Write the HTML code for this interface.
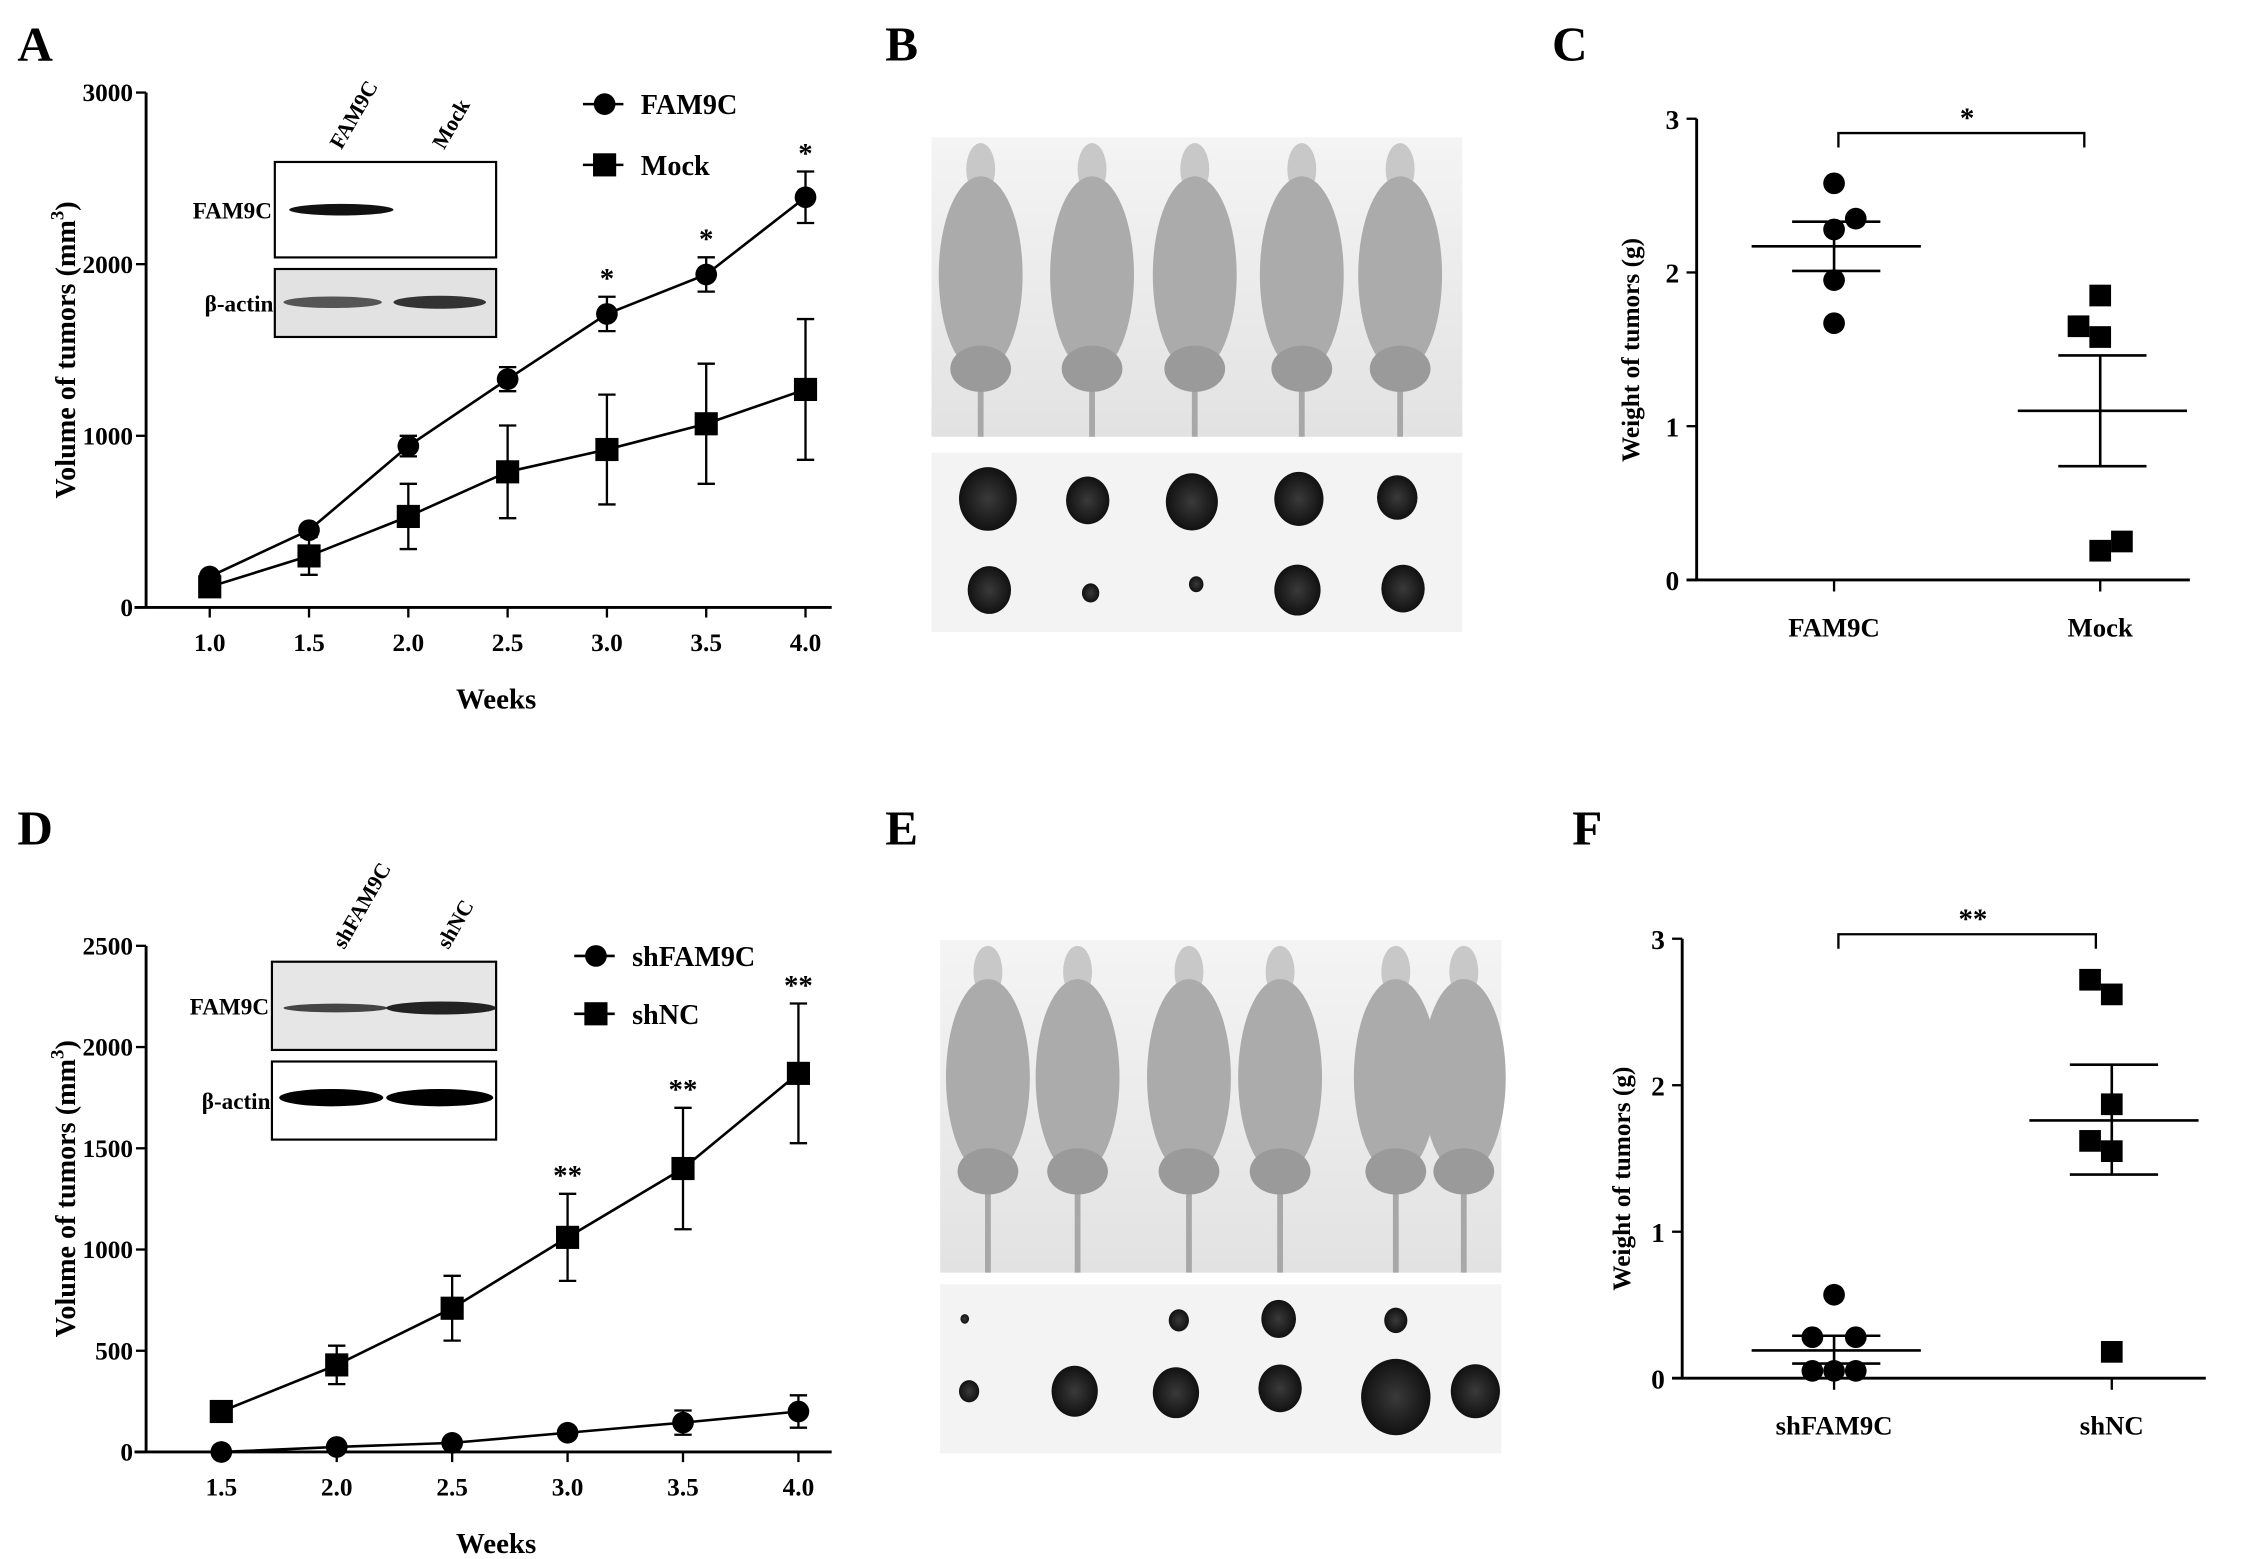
<!DOCTYPE html>
<html><head><meta charset="utf-8">
<style>
html,body{margin:0;padding:0;background:#fff;}
svg{display:block;font-family:"Liberation Serif",serif;font-weight:bold;}
</style></head>
<body>
<svg id="fig" width="2268" height="1559" viewBox="0 0 1568 1078" preserveAspectRatio="none" xmlns="http://www.w3.org/2000/svg">
<defs>
<linearGradient id="bgB" x1="0" y1="0" x2="0" y2="1"><stop offset="0" stop-color="#f4f4f4"/><stop offset="1" stop-color="#e2e2e2"/></linearGradient>
<radialGradient id="tum"><stop offset="0" stop-color="#3a3a3a"/><stop offset="1" stop-color="#111"/></radialGradient>
</defs>
<g id="root"></g>
</svg>
<script>
// ---------- Panel A data ----------
const weeksA = [1.0, 1.5, 2.0, 2.5, 3.0, 3.5, 4.0];
const fam9cVol = [180, 450, 940, 1330, 1710, 1940, 2390];
const fam9cErr = [20, 30, 60, 70, 100, 100, 150];
const mockVol = [120, 300, 530, 790, 920, 1070, 1270];
const mockErr = [30, 110, 190, 270, 320, 350, 410];
const yTicksA = [0, 1000, 2000, 3000];
const xTickLabelsA = ["1.0","1.5","2.0","2.5","3.0","3.5","4.0"];
const starsA = ["", "", "", "", "*", "*", "*"];
// ---------- Panel D data ----------
const weeksD = [1.5, 2.0, 2.5, 3.0, 3.5, 4.0];
const shFamVol = [0, 25, 45, 95, 145, 200];
const shFamErr = [0, 20, 20, 20, 60, 80];
const shNCVol = [200, 430, 710, 1060, 1400, 1870];
const shNCErr = [0, 95, 160, 215, 300, 345];
const yTicksD = [0, 500, 1000, 1500, 2000, 2500];
const xTickLabelsD = ["1.5","2.0","2.5","3.0","3.5","4.0"];
const starsD = ["", "", "", "**", "**", "**"];
// ---------- Panel C data ----------
const groupsC = ["FAM9C", "Mock"];
const fam9cWeights = [2.58, 2.35, 2.28, 1.95, 1.67];
const mockWeights = [1.85, 1.65, 1.58, 0.25, 0.19];
const fam9cJitter = [0, 1, 0, 0, 0];
const mockJitter = [0, -1, 0, 1, 0];
const fam9cStats = [2.17, 2.01, 2.33];
const mockStats = [1.10, 0.74, 1.46];
// ---------- Panel F data ----------
const groupsF = ["shFAM9C", "shNC"];
const shFamWeights = [0.57, 0.28, 0.28, 0.05, 0.05, 0.05];
const shNCWeights = [2.72, 2.62, 1.87, 1.62, 1.55, 0.18];
const shFamJitter = [0, -1, 1, -1, 0, 1];
const shNCJitter = [-1, 0, 0, -1, 0, 0];
const shFamStats = [0.19, 0.10, 0.29];
const shNCStats = [1.76, 1.39, 2.14];
const yTicksW = [0, 1, 2, 3];

const NS = "http://www.w3.org/2000/svg";
const root = document.getElementById("root");
function mk(tag, attrs, parent, text) {
  const e = document.createElementNS(NS, tag);
  for (const k in attrs) e.setAttribute(k, attrs[k]);
  if (text !== undefined) e.textContent = text;
  (parent || root).appendChild(e);
  return e;
}
function line(x1,y1,x2,y2,w,p){return mk("line",{x1,y1,x2,y2,stroke:"#000","stroke-width":w||1.6},p);}

[["A",12,42],["B",612,42],["C",1073,42],["D",12,584],["E",612,584],["F",1087,584]].forEach(function(l){
  const t = mk("text",{x:l[1],y:l[2],"font-size":34},root,l[0]);
  
  
});

function lineChart(cfg) {
  const g = mk("g",{});
  
  
  const xs = v => cfg.x0 + (v - cfg.xMin) * cfg.xk;
  const ys = v => cfg.yZero - v * cfg.yk;
  const ya = line(cfg.ax, ys(cfg.yTicks[cfg.yTicks.length-1]), cfg.ax, cfg.yZero, 2, g);
  
  
  const xa = line(cfg.ax - 8, cfg.yZero, cfg.axEnd, cfg.yZero, 2, g);
  
  
  cfg.yTicks.forEach(function(v){
    line(cfg.ax - 7, ys(v), cfg.ax, ys(v), 1.6, g);
    const t = mk("text",{x:cfg.ax - 9, y:ys(v)+6, "font-size":17.5, "text-anchor":"end"}, g, String(v));
    
    
  });
  cfg.weeks.forEach(function(w,i){
    line(xs(w), cfg.yZero, xs(w), cfg.yZero + 7, 1.6, g);
    const t = mk("text",{x:xs(w), y:cfg.yZero + 30, "font-size":17.5, "text-anchor":"middle"}, g, cfg.xLabels[i]);
    
    
  });
  const xt = mk("text",{x:cfg.titleX, y:cfg.yZero + 70, "font-size":20, "text-anchor":"middle"}, g, "Weeks");
  
  
  const yt = mk("text",{x:0,y:0,"font-size":19.5,"text-anchor":"middle",transform:"translate("+cfg.ytX+","+cfg.ytY+") rotate(-90)"}, g);
  
  
  mk("tspan",{},yt,"Volume  of tumors (mm");
  mk("tspan",{dy:-8,"font-size":13},yt,"3");
  mk("tspan",{dy:8},yt,")");
  cfg.series.forEach(function(s){
    const sg = mk("g",{}, g);
    
    
    const pts = cfg.weeks.map((w,i)=> xs(w)+","+ys(s.vals[i])).join(" ");
    mk("polyline",{points:pts,fill:"none",stroke:"#000","stroke-width":1.8}, sg);
    cfg.weeks.forEach(function(w,i){
      const x = xs(w), y = ys(s.vals[i]), e = s.errs[i];
      if (e > 0) {
        const eb = mk("g",{}, sg);
        
        
        line(x, ys(s.vals[i]+e), x, ys(s.vals[i]-e), 1.6, eb);
        line(x-6, ys(s.vals[i]+e), x+6, ys(s.vals[i]+e), 1.6, eb);
        line(x-6, ys(s.vals[i]-e), x+6, ys(s.vals[i]-e), 1.6, eb);
      }
      let m;
      if (s.shape === "circle") m = mk("circle",{cx:x,cy:y,r:7.5,fill:"#000"}, sg);
      else m = mk("rect",{x:x-8,y:y-8,width:16,height:16,fill:"#000"}, sg);
      
      
    });
  });
  const top = cfg.series[0].vals.map((v,i)=>Math.max(...cfg.series.map(s=>s.vals[i]+s.errs[i])));
  cfg.weeks.forEach(function(w,i){
    if (!cfg.stars[i]) return;
    const t = mk("text",{x:xs(w), y:ys(top[i]) - 6, "font-size":20, "text-anchor":"middle"}, g, cfg.stars[i]);
    
    
  });
  cfg.series.forEach(function(s,i){
    const ly = cfg.legY + i*cfg.legDy;
    const lg = mk("g",{}, g);
    
    
    line(cfg.legX, ly, cfg.legX + 28, ly, 1.8, lg);
    if (s.shape === "circle") mk("circle",{cx:cfg.legX+15,cy:ly,r:7.5,fill:"#000"}, lg);
    else mk("rect",{x:cfg.legX+7,y:ly-8,width:16,height:16,fill:"#000"}, lg);
    mk("text",{x:cfg.legX+40, y:ly+7, "font-size":19.5}, lg, s.label);
  });
  return g;
}

lineChart({name:"panel-a-growth-chart", weeks:weeksA, xMin:1.0, x0:145, xk:137.3, yZero:420, yk:356/3000,
  ax:101, axEnd:575, yTicks:yTicksA, xLabels:xTickLabelsA, titleX:343, ytX:52, ytY:242, stars:starsA,
  legX:403, legY:72, legDy:42,
  series:[{key:"fam9c",label:"FAM9C",shape:"circle",vals:fam9cVol,errs:fam9cErr},
          {key:"mock",label:"Mock",shape:"square",vals:mockVol,errs:mockErr}]});
lineChart({name:"panel-d-growth-chart", weeks:weeksD, xMin:1.5, x0:153, xk:159.6, yZero:1004, yk:350/2500,
  ax:101, axEnd:575, yTicks:yTicksD, xLabels:xTickLabelsD, titleX:343, ytX:52, ytY:822, stars:starsD,
  legX:397, legY:661, legDy:40,
  series:[{key:"shfam9c",label:"shFAM9C",shape:"circle",vals:shFamVol,errs:shFamErr},
          {key:"shnc",label:"shNC",shape:"square",vals:shNCVol,errs:shNCErr}]});

function blot(name, x, y1, h1, y2, h2, w, bands1, bands2, lane1, lane2, l1x, l2x, bg1, bg2) {
  const g = mk("g",{});
  
  
  mk("rect",{x:x,y:y1,width:w,height:h1,fill:bg1,stroke:"#000","stroke-width":1.5}, g);
  mk("rect",{x:x,y:y2,width:w,height:h2,fill:bg2,stroke:"#000","stroke-width":1.5}, g);
  bands1.forEach(b=>mk("ellipse",{cx:b[0],cy:b[1],rx:b[2],ry:b[3],fill:b[4]},g));
  bands2.forEach(b=>mk("ellipse",{cx:b[0],cy:b[1],rx:b[2],ry:b[3],fill:b[4]},g));
  mk("text",{x:x-2,y:y1+h1/2+6,"font-size":16,"text-anchor":"end"},g,"FAM9C");
  mk("text",{x:x-1,y:y2+h2/2+6,"font-size":16,"text-anchor":"end"},g,"β-actin");
  mk("text",{x:0,y:0,"font-size":15,transform:"translate("+l1x+","+(y1-8)+") rotate(-60)"},g,lane1);
  mk("text",{x:0,y:0,"font-size":15,transform:"translate("+l2x+","+(y1-8)+") rotate(-60)"},g,lane2);
}
blot("panel-a-western-blot",190,112,66,186,47,153,
  [[236,145,36,4,"#111"]],
  [[230,209,34,4,"#555"],[304,209,32,4.5,"#333"]],
  "FAM9C","Mock",236,307,"#fff","#e2e2e2");
blot("panel-d-western-blot",188,665,61,734,54,155,
  [[232,697,36,3,"#444"],[305,697,38,4.5,"#222"]],
  [[229,759,36,6,"#000"],[304,759,37,6,"#000"]],
  "shFAM9C","shNC",238,310,"#e6e6e6","#fff");

function photo(name, x, y, w, h, mice, ty, th, tumors) {
  const g = mk("g",{});
  
  
  mk("rect",{x:x,y:y,width:w,height:h,fill:"url(#bgB)"}, g);
  mice.forEach(function(m){
    const mg = mk("g",{}, g);
    
    
    mk("line",{x1:m,y1:y+150,x2:m,y2:y+h,stroke:"#a8a8a8","stroke-width":4}, mg);
    mk("ellipse",{cx:m,cy:y+22,rx:10,ry:18,fill:"#c8c8c8"}, mg);
    mk("ellipse",{cx:m,cy:y+95,rx:29,ry:68,fill:"#ababab"}, mg);
    mk("ellipse",{cx:m,cy:y+160,rx:21,ry:16,fill:"#9a9a9a"}, mg);
  });
  mk("rect",{x:x,y:ty,width:w,height:th,fill:"#f3f3f3"}, g);
  tumors.forEach(function(t){
    const e = mk("ellipse",{cx:t[0],cy:t[1],rx:t[2],ry:t[2]*1.1,fill:"url(#tum)"}, g);
    
    
  });
}
photo("panel-b-mice-photo",644,95,367,207,[678,755,826,900,968],313,124,
  [[683,345,20],[752,346,15],[824,347,18],[898,345,17],[966,344,14],
   [684,408,15],[754,410,6],[827,404,5],[897,408,16],[970,407,15]]);
photo("panel-e-mice-photo",650,650,388,230,[683,745,822,885,965,1012],888,117,
  [[667,912,3],[815,913,7],[884,912,12],[965,913,8],
   [670,962,7],[743,962,16],[813,963,16],[885,960,15],[965,966,24],[1020,962,17]]);

function scatter(cfg) {
  const g = mk("g",{});
  
  
  const ys = v => cfg.yZero - v * cfg.yk;
  const ya = line(cfg.ax, ys(3), cfg.ax, cfg.yZero, 2, g);
  
  
  const xa = line(cfg.ax - 7, cfg.yZero, cfg.axEnd, cfg.yZero, 2, g);
  
  
  yTicksW.forEach(function(v){
    line(cfg.ax - 7, ys(v), cfg.ax, ys(v), 1.6, g);
    const t = mk("text",{x:cfg.ax - 12, y:ys(v)+7, "font-size":19, "text-anchor":"end"}, g, String(v));
    
    
  });
  const yt = mk("text",{x:0,y:0,"font-size":17.5,"text-anchor":"middle",transform:"translate("+cfg.ytX+","+cfg.ytY+") rotate(-90)"}, g, "Weight of tumors  (g)");
  
  
  cfg.groups.forEach(function(grp,gi){
    const cx = cfg.cx[gi];
    line(cx, cfg.yZero, cx, cfg.yZero + 8, 1.6, g);
    const t = mk("text",{x:cx, y:cfg.yZero + 39, "font-size":18.5, "text-anchor":"middle"}, g, grp);
    
    
    const st = cfg.stats[gi];
    line(cx - 57, ys(st[0]), cx + 60, ys(st[0]), 1.8, g);
    line(cx - 29, ys(st[1]), cx + 32, ys(st[1]), 1.8, g);
    line(cx - 29, ys(st[2]), cx + 32, ys(st[2]), 1.8, g);
    line(cx, ys(st[1]), cx, ys(st[2]), 1.8, g);
    cfg.vals[gi].forEach(function(v,i){
      const x = cx + cfg.jit[gi][i] * 15, y = ys(v);
      let m;
      if (gi === 0) m = mk("circle",{cx:x,cy:y,r:7.5,fill:"#000"}, g);
      else m = mk("rect",{x:x-7.5,y:y-7.5,width:15,height:15,fill:"#000"}, g);
      
      
    });
  });
  const br = mk("path",{d:"M"+(cfg.cx[0]+3)+","+(cfg.brY+10)+" V"+cfg.brY+" H"+(cfg.cx[1]-11)+" V"+(cfg.brY+10),fill:"none",stroke:"#000","stroke-width":1.6}, g);
  
  
  const s = mk("text",{x:(cfg.cx[0]+cfg.cx[1])/2, y:cfg.brY - 4, "font-size":20, "text-anchor":"middle"}, g, cfg.star);
  
  
}
scatter({name:"panel-c-weight-chart", groups:groupsC, cx:[1268,1452], ax:1173, axEnd:1514, yZero:401, yk:106.3,
  vals:[fam9cWeights, mockWeights], jit:[fam9cJitter, mockJitter], stats:[fam9cStats, mockStats],
  brY:92, star:"*", ytX:1133, ytY:242});
scatter({name:"panel-f-weight-chart", groups:groupsF, cx:[1268,1460], ax:1163, axEnd:1525, yZero:953, yk:101.3,
  vals:[shFamWeights, shNCWeights], jit:[shFamJitter, shNCJitter], stats:[shFamStats, shNCStats],
  brY:646, star:"**", ytX:1127, ytY:815});
</script>
</body></html>
